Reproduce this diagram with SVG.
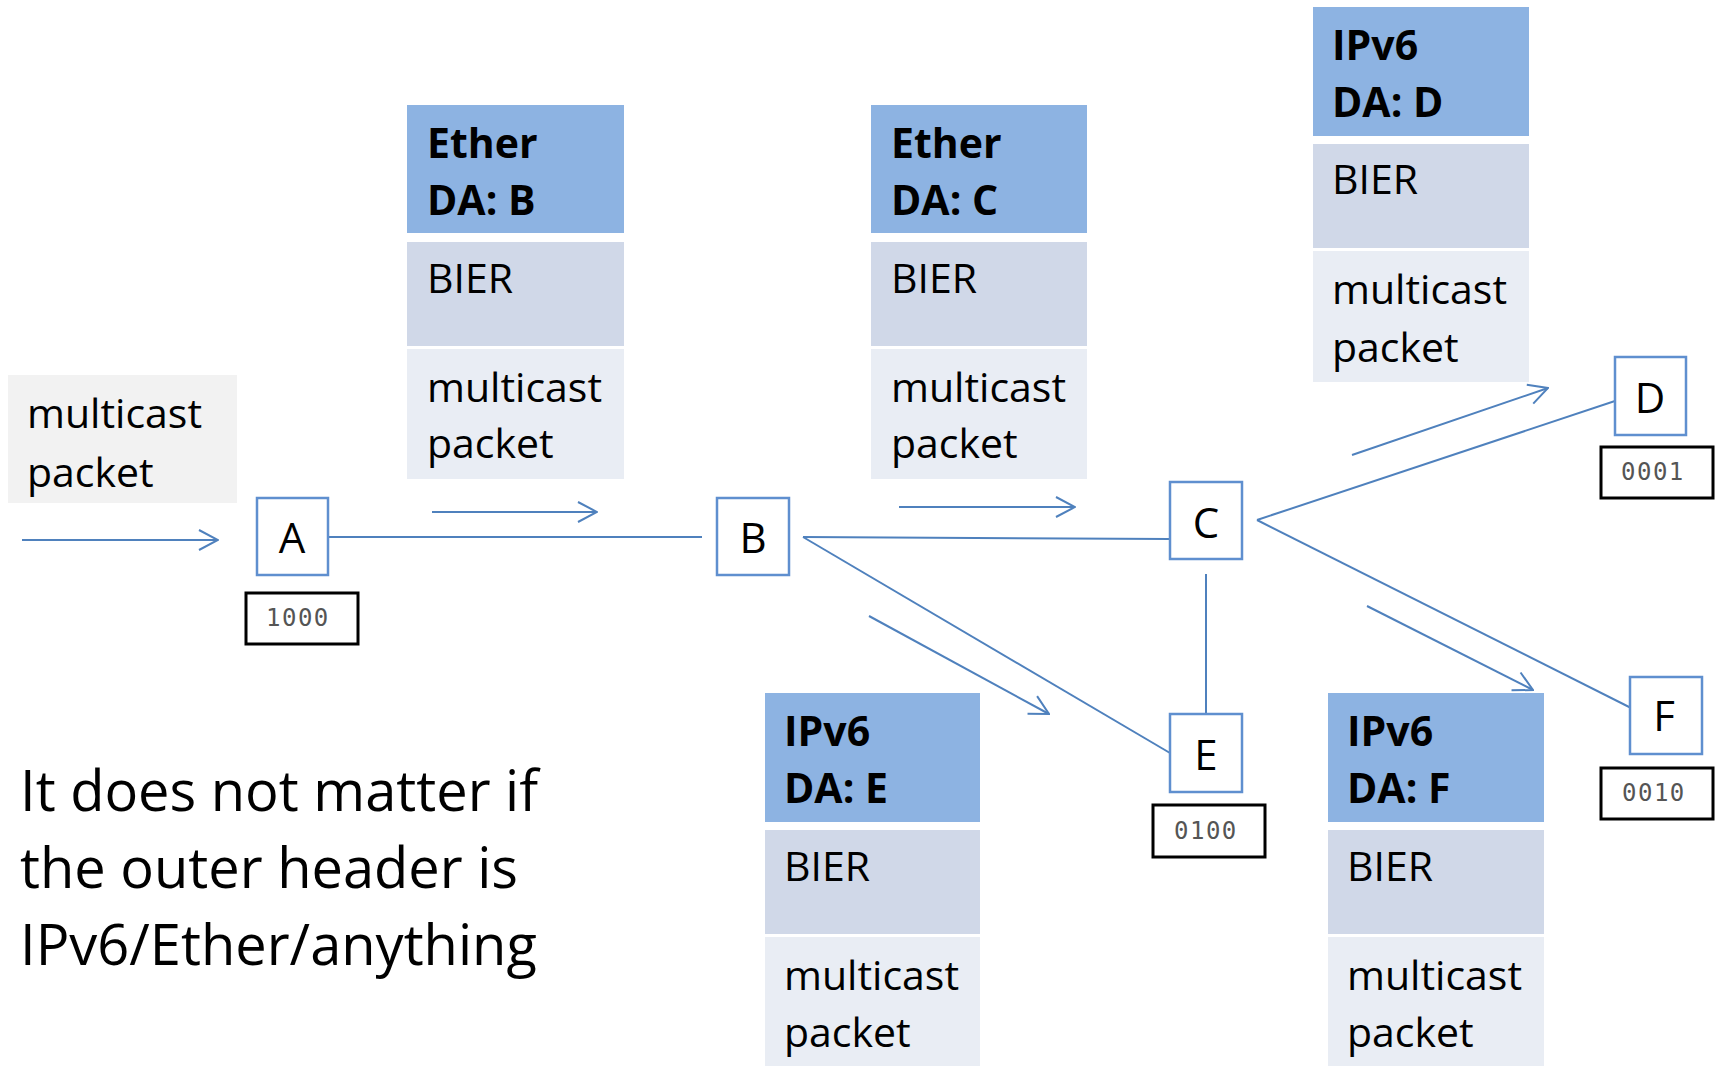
<svg xmlns="http://www.w3.org/2000/svg" width="1723" height="1066" viewBox="0 0 1723 1066">
<style>
  .t { font-family: "Open Sans", "Noto Sans", sans-serif; font-size: 41px; fill: #000; }
  .b { font-weight: bold; }
  .hdr { fill: #8db3e2; }
  .bier { fill: #d0d8e8; }
  .mc { fill: #e9edf4; }
  .node { fill: #fff; stroke: #5f8fcf; stroke-width: 2.5; }
  .nl { font-family: "Open Sans", "Noto Sans", sans-serif; font-size: 42px; fill: #000; text-anchor: middle; }
  .bits { fill: #fff; stroke: #000; stroke-width: 3; }
  .bt { font-family: "DejaVu Sans Mono", "Liberation Mono", monospace; font-size: 24px; fill: #555; letter-spacing: 1.5px; }
  .ln { stroke: #4f81bd; stroke-width: 2; fill: none; }
  .note { font-family: "Open Sans", "Noto Sans", sans-serif; font-size: 56px; fill: #000; }
</style>
<defs>
  <marker id="open" viewBox="0 0 22 24" refX="21" refY="12" markerWidth="22" markerHeight="24" markerUnits="userSpaceOnUse" orient="auto">
    <path d="M2,2 L21,12 L2,22" fill="none" stroke="#4f81bd" stroke-width="2"/>
  </marker>
</defs>
<rect width="1723" height="1066" fill="#fff"/>

<g id="source-packet">
  <rect x="8" y="375" width="229" height="128" fill="#f2f2f2"/>
  <text class="t" x="27" y="428">multicast</text>
  <text class="t" x="27" y="487">packet</text>
</g>

<g id="connectors">
  <line class="ln" x1="22" y1="540" x2="218" y2="540" marker-end="url(#open)"/>
  <line class="ln" x1="328" y1="537" x2="702" y2="537"/>
  <line class="ln" x1="432" y1="512" x2="597" y2="512" marker-end="url(#open)"/>
  <line class="ln" x1="803" y1="537" x2="1170" y2="539"/>
  <line class="ln" x1="899" y1="507" x2="1075" y2="507" marker-end="url(#open)"/>
  <line class="ln" x1="803" y1="537" x2="1170" y2="753"/>
  <line class="ln" x1="869" y1="616" x2="1049" y2="714" marker-end="url(#open)"/>
  <line class="ln" x1="1206" y1="574" x2="1206" y2="714"/>
  <line class="ln" x1="1257" y1="520" x2="1630" y2="396"/>
  <line class="ln" x1="1352" y1="455" x2="1548" y2="388" marker-end="url(#open)"/>
  <line class="ln" x1="1257" y1="520" x2="1645" y2="715"/>
  <line class="ln" x1="1367" y1="606" x2="1533" y2="690" marker-end="url(#open)"/>
</g>

<g id="node-A">
  <rect class="node" x="257" y="498" width="71" height="77"/>
  <text class="nl" x="292" y="553">A</text>
  <rect class="bits" x="246" y="593" width="112" height="51"/>
  <text class="bt" x="266" y="626">1000</text>
</g>
<g id="node-B">
  <rect class="node" x="717" y="498" width="72" height="77"/>
  <text class="nl" x="753" y="553">B</text>
</g>
<g id="node-C">
  <rect class="node" x="1170" y="482" width="72" height="77"/>
  <text class="nl" x="1206" y="538">C</text>
</g>
<g id="node-D">
  <rect class="node" x="1615" y="357" width="71" height="78"/>
  <text class="nl" x="1650" y="413">D</text>
  <rect class="bits" x="1601" y="447" width="112" height="51"/>
  <text class="bt" x="1621" y="480">0001</text>
</g>
<g id="node-E">
  <rect class="node" x="1170" y="714" width="72" height="78"/>
  <text class="nl" x="1206" y="770">E</text>
  <rect class="bits" x="1153" y="805" width="112" height="52"/>
  <text class="bt" x="1174" y="839">0100</text>
</g>
<g id="node-F">
  <rect class="node" x="1630" y="677" width="72" height="77"/>
  <text class="nl" x="1664" y="731">F</text>
  <rect class="bits" x="1601" y="768" width="112" height="51"/>
  <text class="bt" x="1622" y="801">0010</text>
</g>

<g id="packet-B">
  <rect class="hdr" x="407" y="105" width="217" height="128"/>
  <rect class="bier" x="407" y="242" width="217" height="104"/>
  <rect class="mc" x="407" y="349" width="217" height="130"/>
  <text class="t b" x="427" y="158">Ether</text>
  <text class="t b" x="427" y="215">DA: B</text>
  <text class="t" x="427" y="293">BIER</text>
  <text class="t" x="427" y="402">multicast</text>
  <text class="t" x="427" y="458">packet</text>
</g>
<g id="packet-C">
  <rect class="hdr" x="871" y="105" width="216" height="128"/>
  <rect class="bier" x="871" y="242" width="216" height="104"/>
  <rect class="mc" x="871" y="349" width="216" height="130"/>
  <text class="t b" x="891" y="158">Ether</text>
  <text class="t b" x="891" y="215">DA: C</text>
  <text class="t" x="891" y="293">BIER</text>
  <text class="t" x="891" y="402">multicast</text>
  <text class="t" x="891" y="458">packet</text>
</g>
<g id="packet-D">
  <rect class="hdr" x="1313" y="7" width="216" height="129"/>
  <rect class="bier" x="1313" y="144" width="216" height="104"/>
  <rect class="mc" x="1313" y="251" width="216" height="131"/>
  <text class="t b" x="1332" y="60">IPv6</text>
  <text class="t b" x="1332" y="117">DA: D</text>
  <text class="t" x="1332" y="194">BIER</text>
  <text class="t" x="1332" y="304">multicast</text>
  <text class="t" x="1332" y="362">packet</text>
</g>
<g id="packet-E">
  <rect class="hdr" x="765" y="693" width="215" height="129"/>
  <rect class="bier" x="765" y="830" width="215" height="104"/>
  <rect class="mc" x="765" y="937" width="215" height="129"/>
  <text class="t b" x="784" y="746">IPv6</text>
  <text class="t b" x="784" y="803">DA: E</text>
  <text class="t" x="784" y="881">BIER</text>
  <text class="t" x="784" y="990">multicast</text>
  <text class="t" x="784" y="1047">packet</text>
</g>
<g id="packet-F">
  <rect class="hdr" x="1328" y="693" width="216" height="129"/>
  <rect class="bier" x="1328" y="830" width="216" height="104"/>
  <rect class="mc" x="1328" y="937" width="216" height="129"/>
  <text class="t b" x="1347" y="746">IPv6</text>
  <text class="t b" x="1347" y="803">DA: F</text>
  <text class="t" x="1347" y="881">BIER</text>
  <text class="t" x="1347" y="990">multicast</text>
  <text class="t" x="1347" y="1047">packet</text>
</g>

<g id="note">
  <text class="note" x="20" y="811">It does not matter if</text>
  <text class="note" x="20" y="888">the outer header is</text>
  <text class="note" x="20" y="965">IPv6/Ether/anything</text>
</g>
</svg>
